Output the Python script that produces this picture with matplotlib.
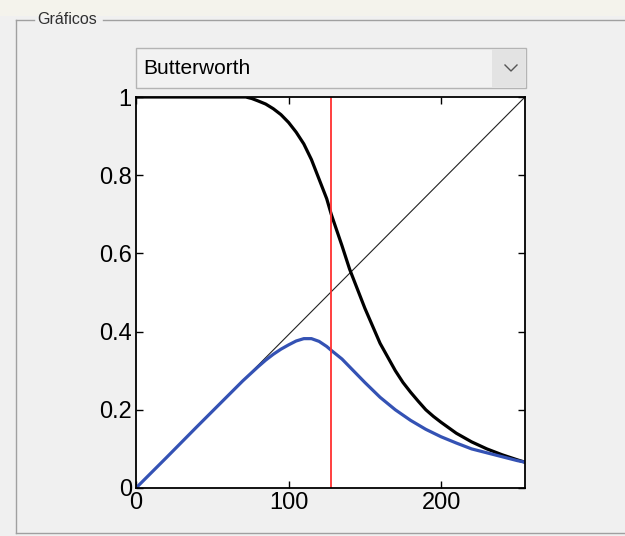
import matplotlib
matplotlib.use("Agg")
import matplotlib.pyplot as plt
from matplotlib.patches import Rectangle

plt.rcParams['font.family'] = ['Liberation Sans', 'DejaVu Sans']

# ---- data ----
x_black = [0, 20, 40, 60, 72, 76, 80, 85, 90, 95, 100, 105, 110, 115, 120, 125,
           128, 135, 140, 145, 150, 155, 160, 165, 170, 175, 180, 185, 190, 195,
           200, 210, 220, 230, 240, 250, 255]
y_black = [1.0, 1.0, 1.0, 1.0, 1.0, 0.996, 0.99, 0.982, 0.97, 0.955, 0.935, 0.91,
           0.88, 0.84, 0.79, 0.74, 0.70, 0.62, 0.56, 0.51, 0.46, 0.415, 0.37,
           0.335, 0.30, 0.27, 0.245, 0.222, 0.20, 0.183, 0.168, 0.14, 0.118,
           0.10, 0.085, 0.072, 0.066]

x_blue = [0, 20, 40, 60, 70, 75, 80, 85, 90, 95, 100, 105, 110, 115, 120, 125,
          128, 135, 140, 145, 150, 160, 170, 180, 190, 200, 210, 220, 230, 240,
          250, 255]
y_blue = [0.0, 0.078, 0.157, 0.235, 0.274, 0.292, 0.31, 0.327, 0.342, 0.355,
          0.366, 0.376, 0.382, 0.382, 0.375, 0.362, 0.352, 0.33, 0.31, 0.29,
          0.27, 0.232, 0.20, 0.173, 0.15, 0.131, 0.115, 0.10, 0.09, 0.08, 0.07,
          0.066]

x_diag = [0, 255]
y_diag = [0, 1]

x_cut = 128

x_ticks = [0, 100, 200]
y_ticks = [0, 0.2, 0.4, 0.6, 0.8, 1]
y_ticklabels = ['0', '0.2', '0.4', '0.6', '0.8', '1']

panel_title = 'Gráficos'
dropdown_text = 'Butterworth'

# ---- figure ----
W, H = 625, 536
fig = plt.figure(figsize=(W / 100, H / 100), dpi=100)
fig.patch.set_facecolor('#f0f0f0')

# GUI layer in pixel coordinates
bg = fig.add_axes([0, 0, 1, 1], zorder=0)
bg.set_xlim(0, W)
bg.set_ylim(H, 0)
bg.axis('off')
bg.add_patch(Rectangle((0, 0), W, 16, facecolor='#f4f3ec', edgecolor='none'))
bg.plot([16, 34], [20, 20], color='#a0a0a0', lw=1)
bg.plot([103, W], [20, 20], color='#a0a0a0', lw=1)
bg.plot([16, 16], [20, 533], color='#a0a0a0', lw=1)
bg.plot([16, W], [533, 533], color='#a0a0a0', lw=1)
bg.text(37, 19, panel_title, fontsize=11.5, color='#303030', va='center', ha='left')
# dropdown
bg.add_patch(Rectangle((136, 48), 390, 40, facecolor='#f2f2f2', edgecolor='#b4b4b4', lw=1))
bg.add_patch(Rectangle((492, 49), 33, 38, facecolor='#e3e3e3', edgecolor='none'))
bg.plot([505, 511, 517], [65, 71, 65], color='#555555', lw=1)
bg.text(143, 68, dropdown_text, fontsize=15, color='#000000', va='center', ha='left')

# main axes
ax = fig.add_axes([136 / W, (H - 488) / H, 389 / W, 391 / H], zorder=1)
ax.set_facecolor('white')
ax.plot(x_diag, y_diag, color='#222222', lw=0.8)
ax.plot(x_black, y_black, color='black', lw=2.3)
ax.plot(x_blue, y_blue, color='#3452b4', lw=2.3)
ax.axvline(x_cut, color='#ff3030', lw=1.3)
ax.set_xlim(0, 255)
ax.set_ylim(0, 1)
ax.set_xticks(x_ticks)
ax.set_yticks(y_ticks)
ax.set_yticklabels(y_ticklabels)
ax.tick_params(direction='in', length=5, width=1, top=True, right=True,
               labelsize=17, pad=3, colors='black')
for s in ax.spines.values():
    s.set_linewidth(1.3)

fig.savefig('out.png', dpi=100, facecolor=fig.get_facecolor())
